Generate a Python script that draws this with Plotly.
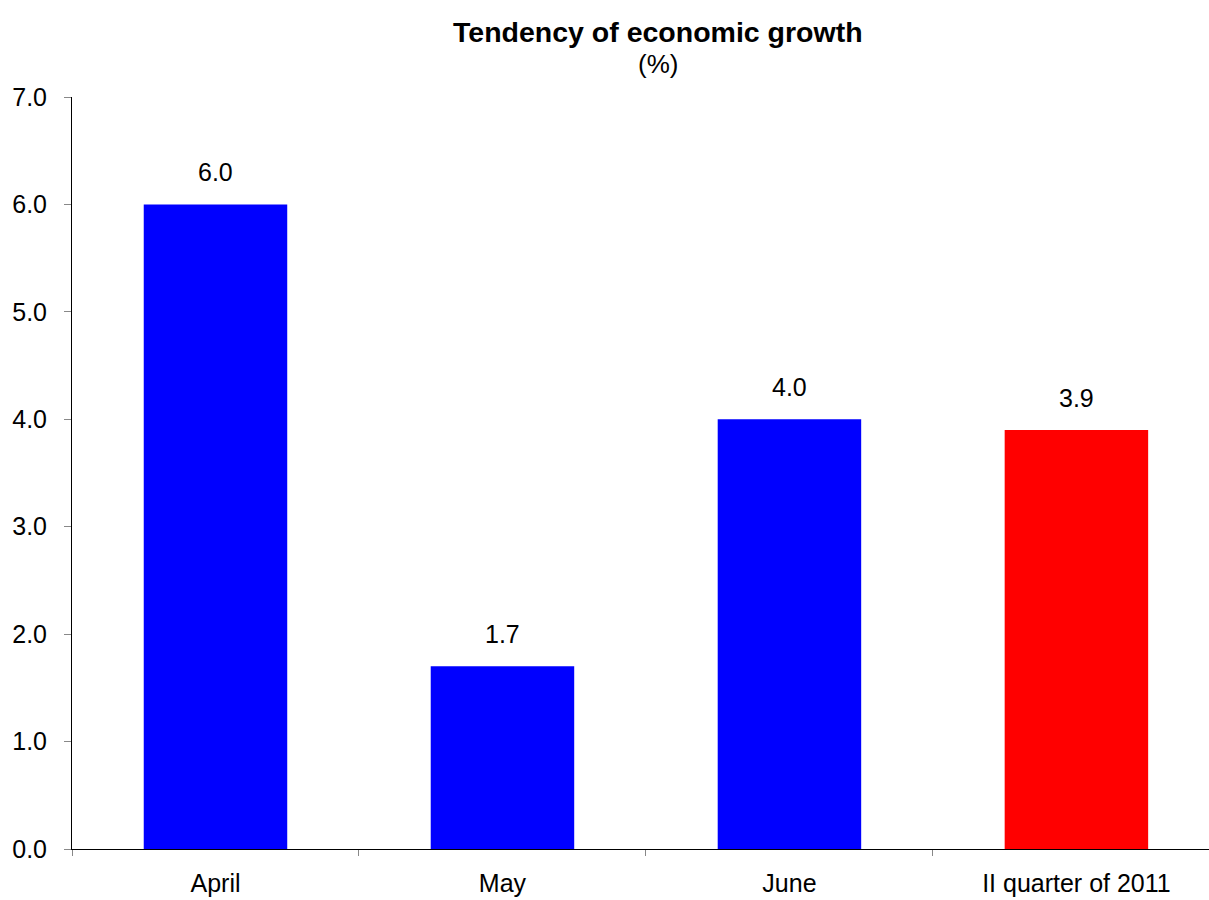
import plotly.graph_objects as go

categories = ["April", "May", "June", "II quarter of 2011"]
values = [6.0, 1.7, 4.0, 3.9]
colors = ["#0000FF", "#0000FF", "#0000FF", "#FF0000"]
y_ticks = [0, 1, 2, 3, 4, 5, 6, 7]
title_text = "Tendency of economic growth"
subtitle_text = "(%)"

FONT = "Liberation Sans, Arial, sans-serif"

fig = go.Figure()
fig.add_trace(go.Bar(
    x=categories, y=values, marker=dict(color=colors, line=dict(width=0)),
    width=0.5, hoverinfo="skip",
))

for c, v in zip(categories, values):
    fig.add_annotation(x=c, y=v, text=f"{v:.1f}", showarrow=False,
                       yanchor="bottom", yshift=16,
                       font=dict(family=FONT, size=25, color="black"))

fig.add_annotation(xref="paper", yref="paper", x=0.515, y=1.0, yanchor="bottom",
                   yshift=47, text=f"<b>{title_text}</b>", showarrow=False,
                   font=dict(family=FONT, size=28.5, color="black"))
fig.add_annotation(xref="paper", yref="paper", x=0.515, y=1.0, yanchor="bottom",
                   yshift=16, text=subtitle_text, showarrow=False,
                   font=dict(family=FONT, size=26, color="black"))

fig.update_layout(
    width=1209, height=900,
    margin=dict(l=72, r=0, t=97, b=51, autoexpand=False),
    paper_bgcolor="white", plot_bgcolor="white",
    showlegend=False,
    font=dict(family=FONT, size=25, color="black"),
)
fig.update_xaxes(
    type="category", range=[-0.5, 3.462],
    showline=True, linecolor="black", linewidth=1,
    ticks="outside", tickson="boundaries", ticklen=6, tickcolor="#888888",
    showgrid=False, zeroline=False,
    tickfont=dict(size=25), ticklabelstandoff=12,
)
fig.update_yaxes(
    range=[0, 7], tickvals=y_ticks, tickformat=".1f",
    showline=True, linecolor="black", linewidth=1,
    ticks="outside", ticklen=7, tickcolor="#888888",
    showgrid=False, zeroline=False,
    tickfont=dict(size=25), ticklabelstandoff=12,
)

fig.write_html("out.html", config={"displayModeBar": False},
               post_script="document.body.style.margin='0';")
